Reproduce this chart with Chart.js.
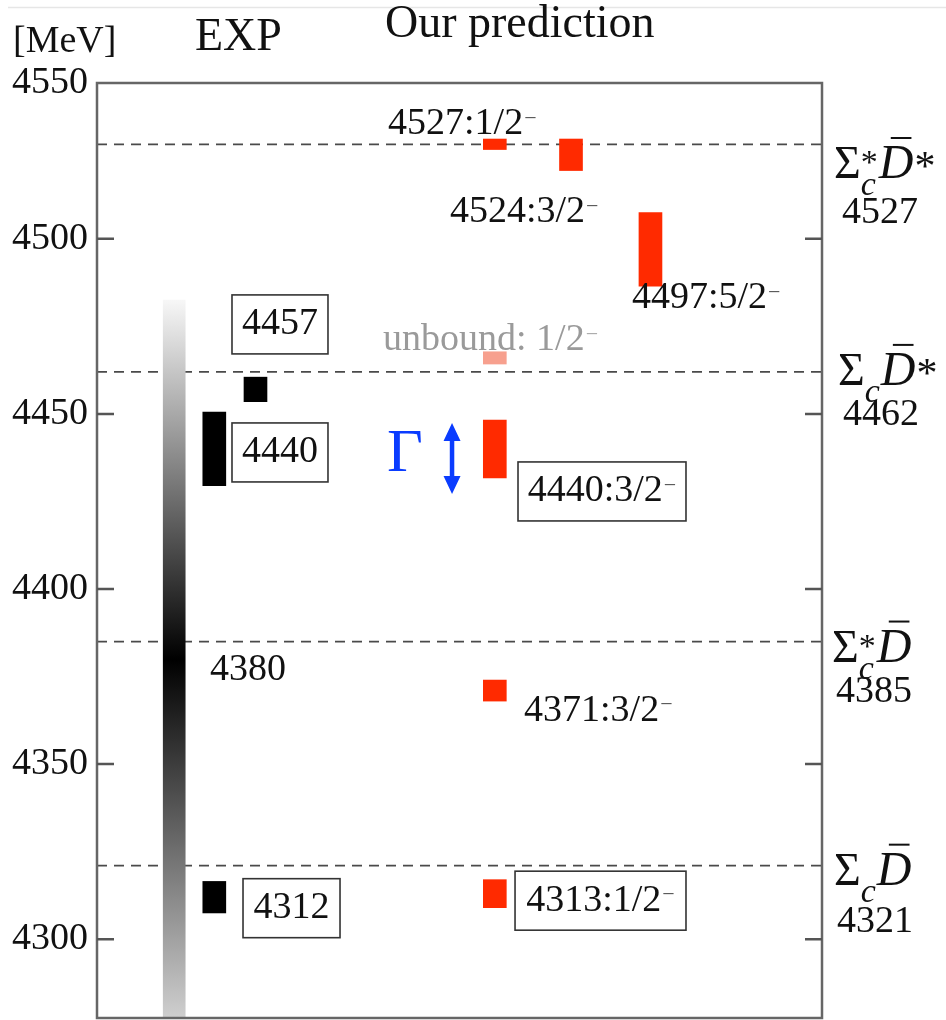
<!DOCTYPE html>
<html>
<head>
<meta charset="utf-8">
<script src="https://cdn.jsdelivr.net/npm/chart.js@4"></script>
<style>
  html, body { margin: 0; padding: 0; background: #fff; }
  #wrap { width: 946px; height: 1020px; }
</style>
</head>
<body>
<div id="wrap"><canvas id="chart" width="946" height="1020"></canvas></div>
<script>
// ---- Energy axis (MeV) ----
const yTickValues = [4300, 4350, 4400, 4450, 4500];
const yTickLabels = ['4300', '4350', '4400', '4450', '4500'];
const yTopLabel = '4550';

// ---- Meson-baryon thresholds ----
const thresholdValues = [4321, 4385, 4462, 4527];
const thresholdStarSigma = [false, true, false, true];   // Σc*  vs Σc
const thresholdStarD = [false, false, true, true];       // D̄*  vs D̄

// ---- Experimental states (mass, width) ----
const expMasses = [4312, 4440, 4457];
const expWidths = [9, 21, 7];
const broadMass = 4380;
const broadWidth = 205;

// ---- Predicted states (mass, width, J^P) ----
const predMasses = [4313, 4371, 4440, 4497, 4524, 4527];
const predWidths = [8, 6, 16.5, 21, 9, 3];
const predSpins = ['1/2', '3/2', '3/2', '5/2', '3/2', '1/2'];
const unboundMass = 4466;
const unboundWidth = 3.5;
const unboundSpin = '1/2';

// ---- Layout (horizontal slots on a 0–100 axis, label offsets in px) ----
const Y_MIN = 4277.5, Y_MAX = 4544.5;
const broadColumn = 10.65;
const expColumns = [16.18, 16.18, 21.86];
const predColumns = [54.87, 54.87, 54.87, 76.34, 65.38, 54.87];
const unboundColumn = 54.87;

const expLabelLayout = [
  { x: 20.14, x2: 33.52, dy: 11, boxed: true },
  { x: 18.62, x2: 31.86, dy: 3.5, boxed: true },
  { x: 18.62, x2: 31.86, dy: -65, boxed: true }
];
const broadLabelLayout = { x: 15.59, dy: 11 };
const predLabelLayout = [
  { x: 57.66, x2: 81.24, dy: 7, boxed: true },
  { x: 58.90, dy: 20 },
  { x: 58.07, x2: 81.24, dy: 42.5, boxed: true },
  { x: 73.79, dy: 49 },
  { x: 48.69, dy: 57 },
  { x: 40.14, dy: -20 }
];
const unboundLabelLayout = { x: 39.45, dy: -18 };
const widthMarkerLayout = { gammaX: 42.48, arrowX: 48.97, gammaDy: 6, arrowTop: -26, arrowBottom: 45 };
const thresholdLabelLayout = [
  { dx: 12, dyName: 19, dxNum: 53, dyNum: 56 },
  { dx: 10, dyName: 20, dxNum: 52, dyNum: 50 },
  { dx: 16, dyName: 13, dxNum: 59, dyNum: 43 },
  { dx: 12, dyName: 33.7, dxNum: 58, dyNum: 68.7 }
];

const FONT = '"Liberation Serif", "Times New Roman", serif';
const RED = '#ff2a00';
const BLUE = '#0a3cff';

const span = (m, w) => [m - w / 2, m + w / 2];

// Broad state drawn as a vertical grey gradient, darkest at its mass
function broadGradient(context) {
  const chart = context.chart;
  const { chartArea, scales } = chart;
  if (!chartArea) return '#888';
  const [lo, hi] = span(broadMass, broadWidth);
  const yTop = scales.y.getPixelForValue(hi);
  const yBot = scales.y.getPixelForValue(lo);
  const yMid = scales.y.getPixelForValue(broadMass);
  const g = chart.ctx.createLinearGradient(0, yTop, 0, yBot);
  g.addColorStop(0, '#f7f7f7');
  g.addColorStop((yMid - yTop) / (yBot - yTop), '#000000');
  g.addColorStop(1, '#cfcfcf');
  return g;
}

const thresholdDatasets = thresholdValues.map(v => ({
  type: 'line',
  data: [{ x: 0, y: v }, { x: 100, y: v }],
  borderColor: '#4a4a4a',
  borderWidth: 1.8,
  borderDash: [10, 7],
  pointRadius: 0,
  order: 5
}));

const barDefaults = { grouped: false, borderWidth: 0, borderSkipped: false, barThickness: 23, order: 1 };

const datasets = [
  ...thresholdDatasets,
  Object.assign({}, barDefaults, {
    type: 'bar',
    data: [{ x: broadColumn, y: span(broadMass, broadWidth) }],
    backgroundColor: broadGradient,
    barThickness: 22
  }),
  Object.assign({}, barDefaults, {
    type: 'bar',
    data: expMasses.map((m, i) => ({ x: expColumns[i], y: span(m, expWidths[i]) })),
    backgroundColor: '#000000'
  }),
  Object.assign({}, barDefaults, {
    type: 'bar',
    data: [{ x: unboundColumn, y: span(unboundMass, unboundWidth) }],
    backgroundColor: '#f7a08e'
  }),
  Object.assign({}, barDefaults, {
    type: 'bar',
    data: predMasses.map((m, i) => ({ x: predColumns[i], y: span(m, predWidths[i]) })),
    backgroundColor: RED
  })
];

// Text with an optional superscript minus (parity)
function measureLevel(ctx, txt, minus) {
  ctx.font = `38px ${FONT}`;
  let w = ctx.measureText(txt).width;
  if (minus) { ctx.font = `22px ${FONT}`; w += 1 + ctx.measureText('\u2212').width; }
  return w;
}
function drawLevel(ctx, txt, x, y, minus, color, minusColor) {
  ctx.textAlign = 'left';
  ctx.textBaseline = 'middle';
  ctx.font = `38px ${FONT}`;
  ctx.fillStyle = color;
  ctx.fillText(txt, x, y);
  const w = ctx.measureText(txt).width;
  if (minus) {
    ctx.font = `22px ${FONT}`;
    ctx.fillStyle = minusColor;
    ctx.fillText('\u2212', x + w + 1, y - 5);
  }
}
function drawLabel(ctx, xs, txt, yMark, lay, minus, color, minusColor) {
  const y = yMark + lay.dy;
  const left = xs.getPixelForValue(lay.x);
  if (lay.boxed) {
    const right = xs.getPixelForValue(lay.x2);
    const h = 59;
    ctx.strokeStyle = '#333';
    ctx.lineWidth = 1.6;
    ctx.strokeRect(left, y - h / 2, right - left, h);
    const w = measureLevel(ctx, txt, minus);
    drawLevel(ctx, txt, (left + right) / 2 - w / 2, y, minus, color, minusColor);
  } else {
    drawLevel(ctx, txt, left, y, minus, color, minusColor);
  }
}

// Threshold name: Σ_c(*) D̄(*)
function drawThresholdName(ctx, x, base, starSigma, starD) {
  ctx.textAlign = 'left';
  ctx.textBaseline = 'alphabetic';
  ctx.fillStyle = '#111';
  ctx.font = `46px ${FONT}`;
  ctx.fillText('\u03A3', x, base);
  x += ctx.measureText('\u03A3').width;
  ctx.font = `italic 34px ${FONT}`;
  const cw = ctx.measureText('c').width;
  ctx.fillText('c', x, base + 17);
  let colW = cw;
  if (starSigma) {
    ctx.font = `34px ${FONT}`;
    ctx.fillText('*', x, base - 5);
    colW = Math.max(cw, ctx.measureText('*').width);
  }
  x += colW + 1;
  ctx.font = `italic 48px ${FONT}`;
  const dw = ctx.measureText('D').width;
  ctx.fillText('D', x, base);
  ctx.strokeStyle = '#111';
  ctx.lineWidth = 2;
  ctx.beginPath();
  ctx.moveTo(x + 12, base - 40);
  ctx.lineTo(x + dw - 2, base - 40);
  ctx.stroke();
  x += dw + 1;
  if (starD) {
    ctx.font = `42px ${FONT}`;
    ctx.fillText('*', x, base + 2);
  }
}

const levelPlugin = {
  id: 'levelAnnotations',
  afterDraw(chart) {
    const { ctx, chartArea: a, scales } = chart;
    const xs = scales.x, ys = scales.y;
    ctx.save();

    // faint rule along the top edge
    ctx.strokeStyle = '#e6e6e6';
    ctx.lineWidth = 1.5;
    ctx.beginPath(); ctx.moveTo(8, 7.5); ctx.lineTo(946, 7.5); ctx.stroke();

    // frame and inward tick marks
    ctx.strokeStyle = '#666';
    ctx.lineWidth = 2.5;
    ctx.strokeRect(a.left, a.top, a.right - a.left, a.bottom - a.top);
    ctx.strokeStyle = '#555';
    yTickValues.forEach(v => {
      const py = ys.getPixelForValue(v);
      ctx.beginPath();
      ctx.moveTo(a.left, py); ctx.lineTo(a.left + 17, py);
      ctx.moveTo(a.right - 17, py); ctx.lineTo(a.right, py);
      ctx.stroke();
    });

    // headers
    ctx.fillStyle = '#111';
    ctx.textAlign = 'left';
    ctx.textBaseline = 'alphabetic';
    ctx.font = `38px ${FONT}`;
    ctx.fillText('[MeV]', 13, 52);
    ctx.font = `46px ${FONT}`;
    ctx.fillText('EXP', 195, 50);
    ctx.fillText('Our prediction', 385, 37);

    // threshold names and values on the right
    thresholdValues.forEach((v, i) => {
      const L = thresholdLabelLayout[i];
      const py = ys.getPixelForValue(v);
      drawThresholdName(ctx, a.right + L.dx, py + L.dyName, thresholdStarSigma[i], thresholdStarD[i]);
      ctx.font = `38px ${FONT}`;
      ctx.fillStyle = '#111';
      ctx.textAlign = 'center';
      ctx.textBaseline = 'middle';
      ctx.fillText(String(v), a.right + L.dxNum, py + L.dyNum);
    });

    // experimental labels
    expMasses.forEach((m, i) => {
      drawLabel(ctx, xs, String(m), ys.getPixelForValue(m), expLabelLayout[i], false, '#111', '#111');
    });
    drawLabel(ctx, xs, String(broadMass), ys.getPixelForValue(broadMass), broadLabelLayout, false, '#111', '#111');

    // predicted labels
    predMasses.forEach((m, i) => {
      drawLabel(ctx, xs, `${m}:${predSpins[i]}`, ys.getPixelForValue(m), predLabelLayout[i], true, '#111', '#555');
    });
    ctx.filter = 'blur(0.7px)';
    drawLabel(ctx, xs, `unbound: ${unboundSpin}`, ys.getPixelForValue(unboundMass), unboundLabelLayout, true, '#9a9a9a', '#aaaaaa');
    ctx.filter = 'none';

    // width marker next to the 4440 prediction
    const yRef = ys.getPixelForValue(predMasses[2]);
    const W = widthMarkerLayout;
    ctx.fillStyle = BLUE;
    ctx.font = `62px ${FONT}`;
    ctx.textAlign = 'center';
    ctx.textBaseline = 'middle';
    ctx.fillText('\u0393', xs.getPixelForValue(W.gammaX), yRef + W.gammaDy);
    const ax = xs.getPixelForValue(W.arrowX);
    const t = yRef + W.arrowTop, b = yRef + W.arrowBottom;
    ctx.strokeStyle = BLUE;
    ctx.lineWidth = 4.5;
    ctx.beginPath(); ctx.moveTo(ax, t + 14); ctx.lineTo(ax, b - 14); ctx.stroke();
    ctx.beginPath();
    ctx.moveTo(ax, t); ctx.lineTo(ax - 8.5, t + 18); ctx.lineTo(ax + 8.5, t + 18); ctx.closePath();
    ctx.moveTo(ax, b); ctx.lineTo(ax - 8.5, b - 18); ctx.lineTo(ax + 8.5, b - 18); ctx.closePath();
    ctx.fill();

    ctx.restore();
  }
};

new Chart(document.getElementById('chart'), {
  type: 'bar',
  data: { datasets },
  options: {
    responsive: false,
    animation: false,
    devicePixelRatio: 1,
    events: [],
    layout: { padding: { left: 0, right: 124, top: 83, bottom: 2 } },
    plugins: { legend: { display: false }, tooltip: { enabled: false } },
    scales: {
      x: { type: 'linear', min: 0, max: 100, offset: false, display: false },
      y: {
        type: 'linear',
        position: 'left',
        min: Y_MIN,
        max: Y_MAX,
        afterBuildTicks: s => {
          s.ticks = yTickValues.map(v => ({ value: v })).concat([{ value: Y_MAX }]);
        },
        afterFit: s => {
          s.width = 97;
          s.paddingTop = 0;
          s.paddingBottom = 0;
        },
        ticks: {
          autoSkip: false,
          padding: 9,
          color: '#111',
          font: { family: FONT, size: 38 },
          callback: (v, i) => (i < yTickLabels.length ? yTickLabels[i] : yTopLabel)
        },
        grid: { display: false, drawTicks: false },
        border: { display: false }
      }
    }
  },
  plugins: [levelPlugin]
});
</script>
</body>
</html>
